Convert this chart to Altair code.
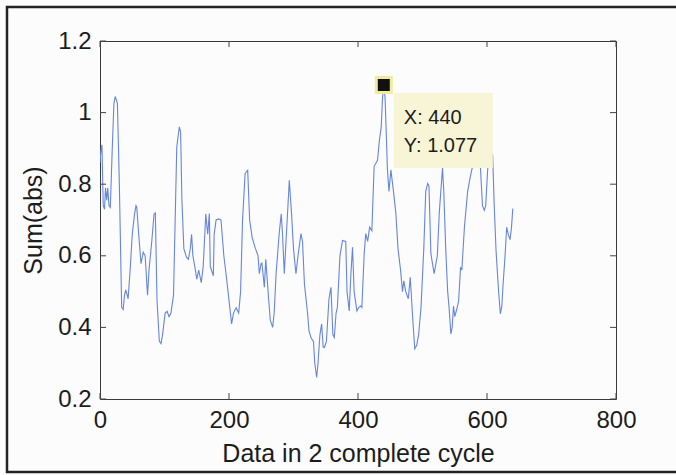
import altair as alt
import pandas as pd

# ---- series (vertices of the trace) ----
sample_x = [0, 1.5, 3, 5, 7, 8.5, 10.5, 12, 14, 16, 19, 21.6, 23.6, 27, 30, 33.6, 36, 38, 40, 43.6,
            47, 50, 53.6, 55.8, 57, 60, 63.6, 67, 70, 73.7, 76, 80.4, 83.8, 85.8, 88.4, 92, 94.6, 97,
            101, 104, 107, 110, 114, 119, 123, 125, 127, 130, 134, 137, 140, 142, 144, 147, 150, 153,
            157, 160, 164, 167, 169.5, 171, 175.7, 177, 180, 184, 187.6, 192, 196, 199.5, 204, 207,
            211, 215, 218, 221, 225, 229, 232, 236, 241, 245, 247, 249.6, 251, 254.8, 257, 261, 264,
            267.7, 270, 273, 278, 281, 283, 285.7, 289, 293.5, 297, 300, 303.8, 307, 311.6, 314, 317,
            321.9, 324, 327, 331, 333, 335.9, 338, 341, 343.6, 346, 347.8, 351, 355, 358.1, 361,
            363.3, 366, 368, 372, 376, 381, 383, 386.4, 389, 391.5, 394, 398.3, 401, 404, 406, 409.6,
            412, 415, 418, 421.5, 425, 430.3, 433, 436, 438, 440, 442, 445.7, 448, 451, 455, 458.6,
            462, 466, 469, 471, 474, 478, 481, 485, 488, 491, 494, 497.7, 502, 505, 508, 510, 513,
            518, 523, 526, 531, 533, 536, 539, 541, 544, 546, 548, 550, 553, 556, 559, 561, 565, 570,
            574, 578.8, 582, 585.5, 588, 590, 593, 595.8, 598, 601, 605, 608.8, 611, 614, 618, 620.7,
            623, 625, 628, 630.5, 633, 635.7, 638, 640]
sum_abs = [0.86, 0.895, 0.91, 0.74, 0.73, 0.79, 0.755, 0.79, 0.74, 0.735, 0.9, 1.026, 1.045, 1.026,
           0.8, 0.456, 0.45, 0.49, 0.505, 0.48, 0.568, 0.66, 0.717, 0.74, 0.735, 0.66, 0.578, 0.61,
           0.6, 0.49, 0.56, 0.643, 0.717, 0.72, 0.475, 0.362, 0.355, 0.38, 0.44, 0.445, 0.43, 0.44,
           0.49, 0.904, 0.96, 0.945, 0.755, 0.62, 0.596, 0.59, 0.62, 0.66, 0.6, 0.57, 0.535, 0.56,
           0.525, 0.57, 0.717, 0.66, 0.718, 0.57, 0.544, 0.66, 0.7, 0.703, 0.7, 0.6, 0.54, 0.484,
           0.41, 0.44, 0.455, 0.44, 0.5, 0.7, 0.83, 0.839, 0.7, 0.65, 0.62, 0.6, 0.55, 0.578, 0.58,
           0.512, 0.59, 0.49, 0.42, 0.4, 0.44, 0.55, 0.666, 0.717, 0.66, 0.55, 0.66, 0.811, 0.717,
           0.62, 0.55, 0.6, 0.662, 0.64, 0.52, 0.438, 0.39, 0.372, 0.36, 0.3, 0.26, 0.3, 0.38, 0.41,
           0.345, 0.344, 0.36, 0.48, 0.512, 0.38, 0.372, 0.44, 0.455, 0.6, 0.643, 0.64, 0.5, 0.446,
           0.55, 0.624, 0.5, 0.446, 0.455, 0.46, 0.456, 0.606, 0.662, 0.64, 0.68, 0.67, 0.85, 0.867,
           0.92, 0.96, 1.04, 1.077, 1.04, 0.839, 0.78, 0.84, 0.78, 0.72, 0.62, 0.56, 0.5, 0.53, 0.5,
           0.48, 0.54, 0.42, 0.34, 0.35, 0.38, 0.456, 0.62, 0.78, 0.802, 0.795, 0.606, 0.55, 0.6,
           0.72, 0.845, 0.78, 0.62, 0.5, 0.46, 0.382, 0.40, 0.46, 0.43, 0.45, 0.474, 0.568, 0.56,
           0.68, 0.78, 0.82, 0.86, 0.96, 1.054, 0.9, 0.84, 0.74, 0.727, 0.74, 0.84, 0.9, 0.88, 0.75,
           0.615, 0.5, 0.438, 0.46, 0.522, 0.6, 0.68, 0.66, 0.645, 0.68, 0.732]

x_ticks = [0, 200, 400, 600, 800]
y_ticks = [0.2, 0.4, 0.6, 0.8, 1.0, 1.2]

tip_x = [440]
tip_y = [1.077]

# ---- tables ----
series = pd.DataFrame({"x": sample_x, "y": sum_abs})
xt = pd.DataFrame({"x": x_ticks})
yt = pd.DataFrame({"y": y_ticks})
tip = pd.DataFrame({"x": tip_x, "y": tip_y,
                    "lx": [f"X: {v}" for v in tip_x],
                    "ly": [f"Y: {v}" for v in tip_y]})

W, H = 516, 358
FONT = "Liberation Sans"
INK = "#1c1c1c"

xs = alt.Scale(domain=[0, 800], nice=False, zero=False)
ys = alt.Scale(domain=[0.2, 1.2], nice=False, zero=False)

x_axis = alt.Axis(values=x_ticks, title="Data in 2 complete cycle", grid=False, domain=False,
                  ticks=False, tickSize=0, labelPadding=9, labelFontSize=24, labelFont=FONT,
                  labelColor=INK, titleFontSize=25, titleFont=FONT, titleColor=INK,
                  titleFontWeight="normal", titleBaseline="alphabetic", titleY=62,
                  labelFlush=False)
y_axis = alt.Axis(values=y_ticks, title="Sum(abs)", grid=False, domain=False,
                  ticks=False, tickSize=0, labelPadding=9, labelFontSize=24, labelFont=FONT,
                  labelColor=INK, titleFontSize=25, titleFont=FONT, titleColor=INK,
                  titleFontWeight="normal", titleBaseline="alphabetic", titleX=-59,
                  labelFlush=False, labelExpr="datum.value == 1 ? '1' : format(datum.value, '.1f')")

X = alt.X("x:Q", scale=xs, axis=x_axis)
Y = alt.Y("y:Q", scale=ys, axis=y_axis)

line = alt.Chart(series).mark_line(color="#6485e0", strokeWidth=1.1, clip=True).encode(x=X, y=Y)

tick_style = dict(color="#444444", strokeWidth=1)
bottom_ticks = alt.Chart(xt).mark_rule(**tick_style).encode(
    x=X, y=alt.value(H), y2=alt.value(H - 6))
top_ticks = alt.Chart(xt).mark_rule(**tick_style).encode(
    x=X, y=alt.value(0), y2=alt.value(6))
left_ticks = alt.Chart(yt).mark_rule(**tick_style).encode(
    y=Y, x=alt.value(0), x2=alt.value(6))
right_ticks = alt.Chart(yt).mark_rule(**tick_style).encode(
    y=Y, x=alt.value(W), x2=alt.value(W - 6))

tip_box = alt.Chart(tip).mark_rect(fill="#f8f5d6", xOffset=10, x2Offset=109,
                                   yOffset=8, y2Offset=83).encode(
    x=X, x2="x", y=Y, y2="y")
tip_lx = alt.Chart(tip).mark_text(align="left", baseline="alphabetic", dx=20, dy=39,
                                  fontSize=20, font=FONT, color=INK).encode(x=X, y=Y, text="lx")
tip_ly = alt.Chart(tip).mark_text(align="left", baseline="alphabetic", dx=20, dy=67,
                                  fontSize=20, font=FONT, color=INK).encode(x=X, y=Y, text="ly")
marker = alt.Chart(tip).mark_square(size=225, color="#111111", opacity=1,
                                    stroke="#f2ea9c", strokeWidth=3).encode(x=X, y=Y)

frame = alt.Chart(alt.Data(values=[{"k": 1}])).mark_rect(
    filled=False, stroke="#222222", strokeWidth=2.5).encode(
    x=alt.value(-93), x2=alt.value(600), y=alt.value(-34), y2=alt.value(431))

chart = alt.layer(
    line, bottom_ticks, top_ticks, left_ticks, right_ticks, tip_box, tip_lx, tip_ly, marker, frame
).properties(
    width=W, height=H,
    autosize=alt.AutoSizeParams(type="none"),
    padding={"left": 100, "top": 41, "right": 60, "bottom": 76},
    background="#fdfcfd",
).configure_view(stroke="#3a3a3a", strokeWidth=1)

chart.save("out.html", embed_options={"renderer": "svg", "actions": False})
